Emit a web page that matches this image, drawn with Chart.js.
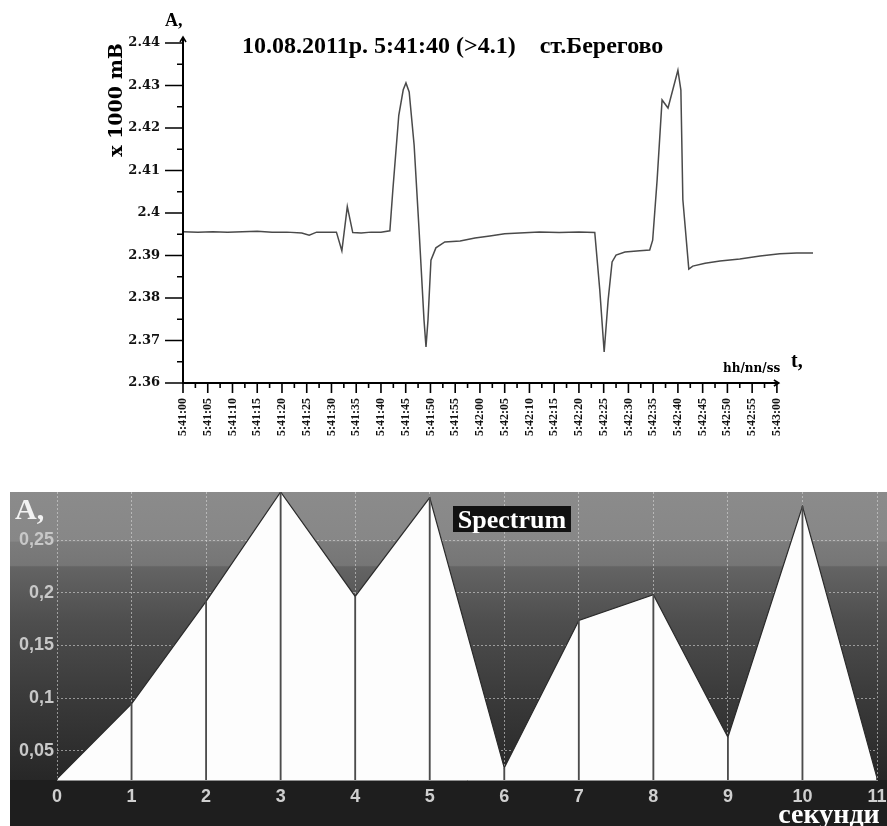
<!DOCTYPE html>
<html>
<head>
<meta charset="utf-8">
<script src="https://cdn.jsdelivr.net/npm/chart.js@4.4.0/dist/chart.umd.min.js"></script>
<style>
  body { margin: 0; background: #fff; }
  #top { position: absolute; left: 0; top: 0; width: 887px; height: 460px; }
  #bottom { position: absolute; left: 10px; top: 492px; width: 877px; height: 334px; }
</style>
</head>
<body>
<div id="top"><canvas id="sigChart"></canvas></div>
<div id="bottom"><canvas id="specChart"></canvas></div>
<script>
// сигнал, секунди від 5:41:00
const sigTime = [0, 3, 6, 9, 12, 15, 18, 21, 24, 25.5, 27, 29, 31, 32.1, 33.2, 34.3, 36, 38, 40,
  41.8, 42.4, 43.6, 44.5, 45.05, 45.7, 46.7, 47.7, 48.7, 49.1, 49.5, 50.1, 51.1, 52.9, 56, 59, 62, 65,
  68, 72, 76, 80, 83.2, 84.2, 85.1, 85.9, 86.7, 87.5, 89.3, 92.3, 94.3, 94.9, 95.8, 96.8, 98, 100,
  100.6, 101.0, 102.2, 103, 105.5, 108.5, 112.5, 116.6, 120.6, 124, 127.3];
const sigValue = [2.3956, 2.3955, 2.3956, 2.3955, 2.3956, 2.3957, 2.3955, 2.3955, 2.3953, 2.3948,
  2.3955, 2.3955, 2.3955, 2.3911, 2.4015, 2.3954, 2.3953, 2.3955, 2.3955,
  2.3958, 2.4054, 2.4230, 2.4290, 2.4306, 2.4285, 2.4160, 2.3960, 2.3748, 2.3685, 2.3748, 2.3889, 2.3918,
  2.3932, 2.3934, 2.3941, 2.3946, 2.3951, 2.3953, 2.3955, 2.3954, 2.3955, 2.3954, 2.3821, 2.3673,
  2.3795, 2.3885, 2.3901, 2.3908, 2.3911, 2.3913, 2.3936, 2.4078, 2.4266, 2.4247, 2.4336,
  2.4289, 2.4031, 2.3868, 2.3875, 2.3882, 2.3887, 2.3892, 2.3899, 2.3904, 2.3906, 2.3906];

// спектр
const specSec = [0, 1, 2, 3, 4, 5, 6, 7, 8, 9, 10, 11];
const specAmp = [0.023, 0.0945, 0.192, 0.296, 0.1967, 0.2907, 0.0335, 0.1738, 0.1983, 0.0627, 0.2824, 0.024];
const specTicks = [0.05, 0.1, 0.15, 0.2, 0.25];

function fmtTime(s) {
    const t = 41 * 60 + s;
    return '5:' + Math.floor(t / 60) + ':' + String(t % 60).padStart(2, '0');
}

function noPad(scale) {
    scale.paddingTop = 0; scale.paddingBottom = 0;
    scale.paddingLeft = 0; scale.paddingRight = 0;
}

// осі зі стрілками та підписи
const sigAxes = {
    id: 'sigAxes',
    afterDraw(chart) {
        const { ctx, scales: { x, y } } = chart;
        const x0 = x.getPixelForValue(0), x1 = x.getPixelForValue(120);
        const yb = y.getPixelForValue(2.36), yt = y.getPixelForValue(2.44);
        ctx.save();
        ctx.strokeStyle = '#000';
        ctx.lineWidth = 2;
        ctx.beginPath();
        ctx.moveTo(x0, yb); ctx.lineTo(x0, yt - 6);
        ctx.moveTo(x0 - 1, yb); ctx.lineTo(x1 + 2, yb);
        ctx.stroke();
        // стрілки
        ctx.lineWidth = 1.5;
        ctx.beginPath();
        ctx.moveTo(x0 - 3, yt - 1); ctx.lineTo(x0, yt - 6); ctx.lineTo(x0 + 3, yt - 1);
        ctx.moveTo(x1 - 3, yb - 3); ctx.lineTo(x1 + 2, yb); ctx.lineTo(x1 - 3, yb + 3);
        ctx.stroke();
        ctx.lineWidth = 1.6;
        ctx.beginPath();
        y.ticks.forEach(t => {
            const py = y.getPixelForValue(t.value);
            const len = t.label ? 18 : 6;
            ctx.moveTo(x0 - len, py); ctx.lineTo(x0, py);
        });
        x.ticks.forEach(t => {
            const px = x.getPixelForValue(t.value);
            const len = t.label ? 10 : 5;
            ctx.moveTo(px, yb); ctx.lineTo(px, yb + len);
        });
        ctx.stroke();

        ctx.fillStyle = '#000';
        ctx.textBaseline = 'alphabetic';
        ctx.font = 'bold 18px "Liberation Serif"';
        ctx.fillText('A,', 165, 26);
        ctx.font = 'bold 24px "Liberation Serif"';
        ctx.fillText('10.08.2011р. 5:41:40 (>4.1)    ст.Берегово', 242, 53);
        ctx.font = 'bold 12px "DejaVu Serif"';
        ctx.fillText('hh/nn/ss', 723, 372);
        ctx.font = 'bold 20px "Liberation Serif"';
        ctx.fillText('t,', 791, 367);

        ctx.translate(122, 100);
        ctx.rotate(-Math.PI / 2);
        ctx.textAlign = 'center';
        ctx.font = 'bold 19px "DejaVu Serif"';
        ctx.fillText('x 1000 mB', 0, 0);
        ctx.restore();
    }
};

new Chart(document.getElementById('sigChart'), {
    type: 'line',
    data: {
        datasets: [{
            data: sigTime.map((t, i) => ({ x: t, y: sigValue[i] })),
            borderColor: '#4a4a4a',
            borderWidth: 1.5,
            pointRadius: 0,
            tension: 0
        }]
    },
    options: {
        responsive: true,
        maintainAspectRatio: false,
        animation: false,
        layout: { padding: { left: 0, right: 72, top: 43, bottom: 0 } },
        plugins: { legend: { display: false }, tooltip: { enabled: false } },
        scales: {
            x: {
                type: 'linear',
                min: 0,
                max: 127.7,
                afterBuildTicks: s => {
                    const t = [];
                    for (let v = 0; v <= 120; v += 2.5) t.push({ value: v });
                    s.ticks = t;
                },
                afterFit: s => { s.height = 77; noPad(s); },
                grid: { display: false, drawTicks: false },
                border: { display: false },
                ticks: {
                    autoSkip: false,
                    minRotation: 90,
                    maxRotation: 90,
                    padding: 15,
                    color: '#111',
                    font: { family: 'Liberation Serif', weight: 'bold', size: 12 },
                    callback: v => (v % 5 === 0 ? fmtTime(v) : '')
                }
            },
            y: {
                min: 2.36,
                max: 2.44,
                afterBuildTicks: s => {
                    const t = [];
                    for (let i = 0; i <= 16; i++) t.push({ value: Math.round((2.36 + i * 0.005) * 1000) / 1000 });
                    s.ticks = t;
                },
                afterFit: s => { s.width = 183; noPad(s); },
                grid: { display: false, drawTicks: false },
                border: { display: false },
                ticks: {
                    padding: 23,
                    color: '#111',
                    font: { family: 'DejaVu Serif', weight: 'bold', size: 13 },
                    callback: v => (Math.round(v * 1000) % 10 === 0 ? String(Math.round(v * 100) / 100) : '')
                }
            }
        }
    },
    plugins: [sigAxes]
});

// фон спектру
const specBack = {
    id: 'specBack',
    beforeDraw(chart) {
        const { ctx, chartArea, width, height } = chart;
        const b = chartArea.bottom;
        const g = ctx.createLinearGradient(0, 0, 0, b);
        g.addColorStop(0, '#8b8b8b');
        g.addColorStop(0.17, '#878787');
        g.addColorStop(0.175, '#7b7b7b');
        g.addColorStop(0.255, '#767676');
        g.addColorStop(0.26, '#646464');
        g.addColorStop(0.45, '#4e4e4e');
        g.addColorStop(0.7, '#3b3b3b');
        g.addColorStop(1, '#272727');
        ctx.save();
        ctx.fillStyle = g;
        ctx.fillRect(0, 0, width, b);
        ctx.fillStyle = '#1e1e1e';
        ctx.fillRect(0, b, width, height - b);
        ctx.restore();
    },
    afterDraw(chart) {
        const { ctx } = chart;
        ctx.save();
        ctx.fillStyle = '#f2f2f2';
        ctx.font = 'bold 30px "Liberation Serif"';
        ctx.fillText('A,', 5, 27);
        ctx.fillStyle = '#111';
        ctx.fillRect(443, 14, 118, 26);
        ctx.fillStyle = '#fff';
        ctx.font = 'bold 26px "Liberation Serif"';
        ctx.textAlign = 'center';
        ctx.fillText('Spectrum', 502, 36);
        ctx.font = 'bold 28px "Liberation Serif"';
        ctx.fillText('секунди', 819, 331);
        ctx.restore();
    }
};

new Chart(document.getElementById('specChart'), {
    type: 'line',
    data: {
        datasets: [{
            type: 'bar',
            data: specSec.map((s, i) => ({ x: s, y: specAmp[i] })),
            backgroundColor: '#4c4c4c',
            barThickness: 1.2,
            order: 1
        }, {
            data: specSec.map((s, i) => ({ x: s, y: specAmp[i] })),
            borderColor: '#2a2a2a',
            borderWidth: 1.2,
            backgroundColor: '#fdfdfd',
            fill: 'start',
            pointRadius: 0,
            tension: 0,
            order: 2
        }]
    },
    options: {
        responsive: true,
        maintainAspectRatio: false,
        animation: false,
        layout: { padding: { left: 0, right: 10, top: 0, bottom: 0 } },
        plugins: { legend: { display: false }, tooltip: { enabled: false } },
        scales: {
            x: {
                type: 'linear',
                min: 0,
                max: 11,
                offset: false,
                afterFit: s => { s.height = 46; noPad(s); },
                grid: { color: 'rgba(215,215,215,0.6)', offset: false, drawTicks: false },
                border: { display: true, color: '#909090', width: 1, dash: [2, 2] },
                ticks: {
                    stepSize: 1,
                    padding: 6,
                    color: '#cfcfcf',
                    font: { family: 'Liberation Sans', weight: 'bold', size: 18 }
                }
            },
            y: {
                type: 'linear',
                min: 0.022,
                max: 0.296,
                beginAtZero: false,
                afterBuildTicks: s => { s.ticks = specTicks.map(v => ({ value: v })); },
                afterFit: s => { s.width = 47; noPad(s); },
                grid: { color: 'rgba(215,215,215,0.6)', drawTicks: false },
                border: { display: false, dash: [2, 2] },
                ticks: {
                    padding: 3,
                    color: '#c8c8c8',
                    font: { family: 'Liberation Sans', weight: 'bold', size: 18 },
                    callback: v => String(v).replace('.', ',')
                }
            }
        }
    },
    plugins: [specBack]
});
</script>
</body>
</html>
